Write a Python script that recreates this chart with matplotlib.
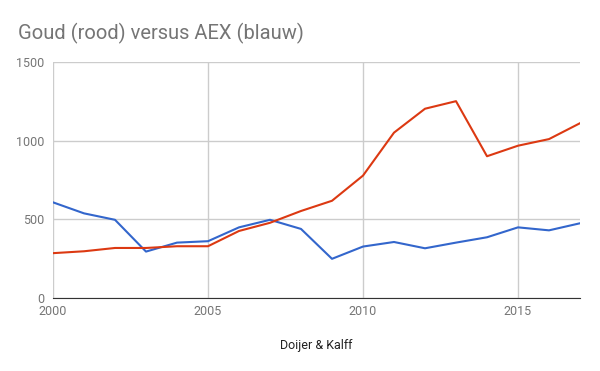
import numpy as np
import matplotlib.pyplot as plt

plt.rcParams['font.family'] = ['Roboto', 'DejaVu Sans']

# data
years = np.arange(2000, 2018)
goud = [285, 297, 318, 318, 329, 329, 426, 478, 553, 618, 778,
        1051, 1203, 1251, 901, 968, 1010, 1111]
aex = [608, 538, 497, 295, 352, 361, 449, 497, 439, 249, 327,
       356, 316, 352, 386, 449, 430, 475]
xticks = [2000, 2005, 2010, 2015]
yticks = [0, 500, 1000, 1500]

fig = plt.figure(figsize=(6, 3.71), dpi=100)
ax = fig.add_axes([53/600, 73/371, 527/600, 236/371])

ax.plot(years, aex, color='#3366cc', lw=1.5, zorder=3)
ax.plot(years, goud, color='#dc3912', lw=1.5, zorder=3)

ax.set_xlim(2000, 2017)
ax.set_ylim(0, 1500)
ax.set_xticks(xticks)
ax.set_yticks(yticks)
ax.grid(True, color='#cccccc', lw=1)
ax.set_axisbelow(True)
for s in ['top', 'right', 'left']:
    ax.spines[s].set_visible(False)
ax.spines['bottom'].set_color('#333333')
ax.tick_params(length=0, labelsize=9, colors='#757575', pad=6)
ax.tick_params(axis='x', pad=5)

ax.set_xlabel('Doijer & Kalff', fontsize=9, color='#222222', labelpad=15)
fig.text(18/600, 1 - 33/371, 'Goud (rood) versus AEX (blauw)', fontsize=14.5,
         color='#757575', va='center', ha='left')

plt.savefig('out.png', dpi=100)
